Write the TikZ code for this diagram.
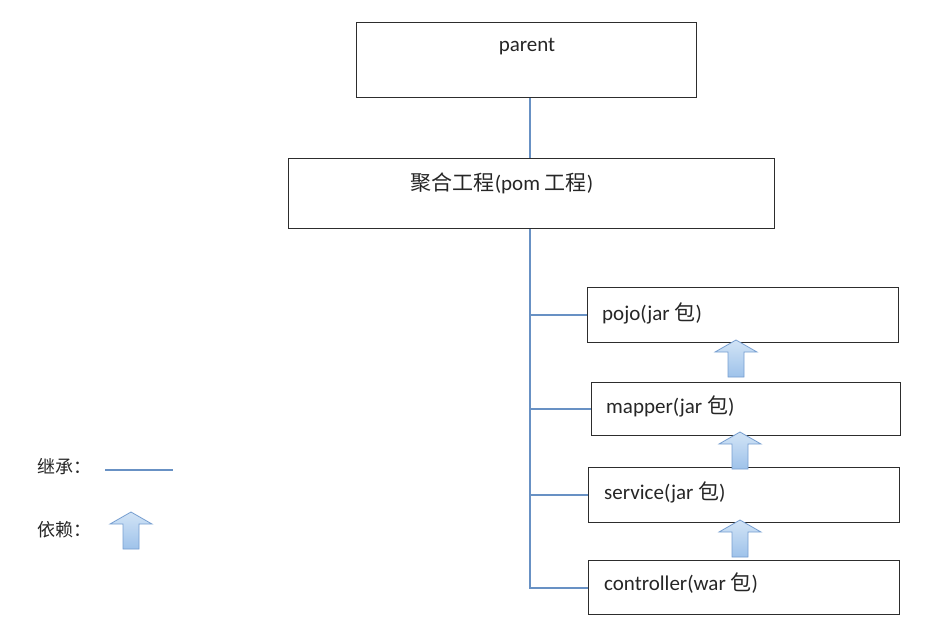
\documentclass[tikz,border=0pt]{standalone}
\usepackage{fontspec}
\setmainfont{Carlito}
\newfontfamily\cjk{Noto Sans CJK SC}
\usetikzlibrary{positioning}
\definecolor{linkblue}{RGB}{104,145,196}
\definecolor{boxgray}{RGB}{45,45,45}
\definecolor{arrowedge}{RGB}{118,158,208}
\definecolor{arrowtop}{RGB}{210,228,246}
\definecolor{arrowbot}{RGB}{158,194,234}

\begin{document}
\begin{tikzpicture}[x=1pt, y=-1pt,
    box/.style={draw=boxgray, line width=1.3pt, fill=white, inner sep=0pt},
    inherit/.style={draw=linkblue, line width=2pt},
    txt/.style={font=\fontsize{21}{25}\selectfont, inner sep=0pt, text=black!85},
    legendtxt/.style={font=\fontsize{18}{22}\selectfont, inner sep=0pt, text=black!85, anchor=west},
    depend/.pic={\draw[arrowedge, line width=0.8pt, top color=arrowtop, bottom color=arrowbot]
        (0,0) -- (21,12) -- (8,12) -- (8,37) -- (-8,37) -- (-8,12) -- (-21,12) -- cycle;}]
    \useasboundingbox (0,0) rectangle (937,638);
    \coordinate (trunk) at (530,0);

    % boxes
    \node[box, minimum width=340pt, minimum height=75pt, anchor=north west] (parent) at (356,22) {};
    \node[box, minimum width=486pt, minimum height=70pt, anchor=north west] (pom) at (288,158) {};
    \node[box, minimum width=311pt, minimum height=55pt, anchor=north west] (pojo) at (587,287) {};
    \node[box, minimum width=309pt, minimum height=53pt, anchor=north west] (mapper) at (591,382) {};
    \node[box, minimum width=311pt, minimum height=55pt, anchor=north west] (service) at (588,467) {};
    \node[box, minimum width=311pt, minimum height=54pt, anchor=north west] (controller) at (588,560) {};

    \node[txt] (parenttxt) at (527,47) {parent};
    \node[txt] (pomtxt) at (502,183) {{\cjk 聚合工程}(pom {\cjk 工程})};
    \node[txt, anchor=west] (pojotxt) at (602,313) {pojo(jar {\cjk 包})};
    \node[txt, anchor=west] (mappertxt) at (606,406) {mapper(jar {\cjk 包})};
    \node[txt, anchor=west] (servicetxt) at (604,492) {service(jar {\cjk 包})};
    \node[txt, anchor=west] (controllertxt) at (604,583) {controller(war {\cjk 包})};

    % inheritance lines
    \draw[inherit] (parent.south -| trunk) -- (pom.north -| trunk);
    \draw[inherit] (pom.south -| trunk) |- (controller.west);
    \draw[inherit] (trunk |- pojo.west) -- (pojo.west);
    \draw[inherit] (trunk |- mapper.west) -- (mapper.west);
    \draw[inherit] (trunk |- service.west) -- (service.west);

    % dependencies
    \pic at (736,340) {depend};
    \pic at (740,432) {depend};
    \pic at (740,520) {depend};

    % legend
    \node[legendtxt] (inherittxt) at (37,467) {\cjk 继承：};
    \coordinate (inhA) at (105,470);
    \coordinate (inhB) at (173,470);
    \draw[inherit] (inhA) -- (inhB);
    \node[legendtxt] (dependtxt) at (37,530) {\cjk 依赖：};
    \pic at (131,512) {depend};
\end{tikzpicture}
\end{document}
